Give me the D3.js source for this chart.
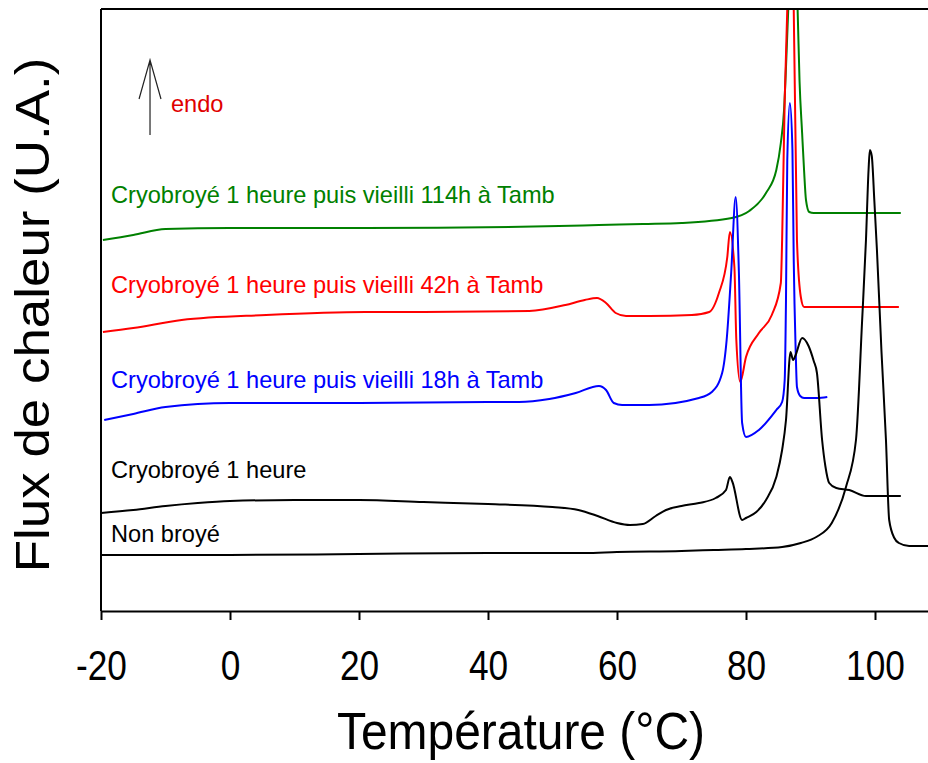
<!DOCTYPE html>
<html>
<head>
<meta charset="utf-8">
<script src="https://cdn.jsdelivr.net/npm/d3@7"></script>
<style>
  html, body { margin: 0; padding: 0; background: #fff; }
  svg { display: block; }
  text { font-family: "Liberation Sans", Arial, sans-serif; }
</style>
</head>
<body>
<svg id="chart" width="928" height="763"></svg>
<script>
// ---- Data (temperature °C, heat flux in arbitrary units U.A.) ----
const xTicks = [-20, 0, 20, 40, 60, 80, 100];

const nonBroye = [
  [-20,56],[0,56],[20,57],[40,58],[55,58],[60,59],[70,60],[75,61],[80,62],[85.6,64],[88.5,68],
  [90.9,74],[93.3,88],[95.5,124],[97.05,171],[98.0,290],[98.6,371],[99.0,441],[99.2,461],
  [99.5,455],[99.9,410],[100.3,361],[101.0,260],[101.7,171],[102.2,91],[103.0,73],[103.7,68],
  [105.3,65],[110,65]
];

const cryo1h = [
  [-20,98],[-15,101],[-10,105],[-5,108],[0,110],[10,111],[20,111],[30,109],[40,107],[50,104],
  [54,101],[57,95],[60,88],[62,86],[64,87],[66,95],[67.6,101],[70,105],[72.7,108],[75.3,113],
  [76.9,121],[77.5,134],[77.9,129],[79.4,91],[80,93],[81.6,99],[83.1,111],[84.7,134],[85.6,161],
  [86.2,191],[86.9,259],[87.3,251],[87.7,256],[88.7,273],[89.7,265],[90.5,250],[91.0,238],
  [91.8,171],[92.3,145],[92.9,128],[94,123],[96,121],[98.6,115],[104,115]
];

const vieilli18h = [
  [-19.5,191],[-15,197],[-10,204],[0,208],[20,208],[40,209],[44.8,209],[49.5,212],[53.6,218],
  [57.2,225],[58.3,221],[59.5,208],[60.8,206],[65,206],[72.7,213],[74.7,219],[76.3,238],
  [77.0,271],[77.7,338],[78.4,414],[78.9,338],[79.4,188],[80.0,174],[82,181],[84.7,201],
  [85.6,209],[86.0,231],[86.2,311],[86.4,451],[86.8,508],[87.2,461],[87.4,351],[87.7,261],
  [87.9,224],[88.4,215],[89,213],[91,213],[92.6,214]
];

const vieilli42h = [
  [-19.7,279],[-15,283],[-7.5,291],[5.6,296],[21,299],[30,299],[46.4,300],[52,306],[55,311],
  [56.9,313],[58.3,308],[59.8,298],[61.4,295],[65,295],[71.6,296],[74.3,299],[75.8,318],
  [77.1,354],[77.5,379],[78.2,344],[78.5,271],[79.1,229],[80.0,254],[82,278],[84,296],
  [85.4,328],[85.6,371],[86.0,511],[86.4,602],[86.9,660],[87.4,602],[87.9,371],[88.5,314],
  [89,304],[103.7,304]
];

const vieilli114h = [
  [-19.7,371],[-15,376],[-10,382],[0,383],[21,383],[51,385],[57.2,386],[64,387],[70,388],
  [77.8,393],[80.5,400],[83.1,418],[84.7,441],[85.4,468],[85.9,501],[86.3,560],[86.6,610],
  [87.3,680],[88.0,602],[88.3,530],[88.7,478],[89.0,441],[89.3,411],[89.8,399],[90.5,398],
  [104,398]
];

const seriesNames = [
  "Cryobroyé 1 heure puis vieilli 114h à Tamb",
  "Cryobroyé 1 heure puis vieilli 42h à Tamb",
  "Cryobroyé 1 heure puis vieilli 18h à Tamb",
  "Cryobroyé 1 heure",
  "Non broyé"
];
const seriesColors = ["#008000", "#ff0000", "#0000ff", "#000000", "#000000"];
const seriesData = [vieilli114h, vieilli42h, vieilli18h, cryo1h, nonBroye];
// label anchor (temperature, flux) for each series label
const labelX = [-18.45, -18.45, -18.45, -18.45, -18.45];
const labelY = [408, 318, 223, 133, 69];

// ---- Layout ----
const svg = d3.select("#chart");
const x = d3.scaleLinear().domain([-20, 110]).range([101, 939.5]);
const y = d3.scaleLinear().domain([0, 602]).range([611, 9]);

svg.append("defs").append("clipPath").attr("id", "plotclip")
  .append("rect")
  .attr("x", x(-20)).attr("y", y(602))
  .attr("width", x(110) - x(-20)).attr("height", y(0) - y(602));

// Series lines
const line = d3.line()
  .x(d => x(d[0]))
  .y(d => y(d[1]))
  .curve(d3.curveMonotoneX);

const g = svg.append("g").attr("clip-path", "url(#plotclip)");
seriesData.forEach((s, i) => {
  g.append("path")
    .attr("d", line(s))
    .attr("fill", "none")
    .attr("stroke", seriesColors[i])
    .attr("stroke-width", 2)
    .attr("stroke-linejoin", "round");
});

// Frame: top border and left axis line
svg.append("line")
  .attr("x1", x(-20)).attr("x2", x(110))
  .attr("y1", y(602)).attr("y2", y(602))
  .attr("stroke", "#000").attr("stroke-width", 2);
svg.append("line")
  .attr("x1", x(-20)).attr("x2", x(-20))
  .attr("y1", y(602)).attr("y2", y(0))
  .attr("stroke", "#000").attr("stroke-width", 2);

// X axis
const xAxis = d3.axisBottom(x).tickValues(xTicks).tickSize(9).tickSizeOuter(0).tickPadding(30)
  .tickFormat(d => String(d));
const ax = svg.append("g").attr("transform", `translate(0,${y(0)})`).call(xAxis);
ax.select(".domain").attr("stroke-width", 2);
ax.selectAll(".tick line").attr("stroke-width", 2);
ax.selectAll(".tick text")
  .attr("font-family", "Liberation Sans, Arial, sans-serif")
  .attr("font-size", 42)
  .attr("fill", "#000")
  .attr("transform", "scale(0.84,1)");

// Axis titles
svg.append("text")
  .attr("transform", `translate(521,749) scale(0.94,1)`)
  .attr("text-anchor", "middle")
  .attr("font-size", 51)
  .attr("fill", "#000")
  .text("Température (°C)");

svg.append("text")
  .attr("transform", `translate(49,315) rotate(-90) scale(1.08,1)`)
  .attr("text-anchor", "middle")
  .attr("font-size", 49)
  .attr("fill", "#000")
  .text("Flux de chaleur (U.A.)");

// Series labels
seriesNames.forEach((name, i) => {
  svg.append("text")
    .attr("x", x(labelX[i]))
    .attr("y", y(labelY[i]))
    .attr("font-size", 23.6)
    .attr("fill", seriesColors[i])
    .text(name);
});

// Endo arrow
const ax0 = x(-12.4), ayBot = y(476), ayTop = y(551), ayHead = y(512);
svg.append("path")
  .attr("d", `M${ax0},${ayBot}L${ax0},${ayTop}M${x(-14.1)},${ayHead}L${ax0},${ayTop}L${x(-10.7)},${ayHead}`)
  .attr("fill", "none")
  .attr("stroke", "#222")
  .attr("stroke-width", 1.2);
svg.append("text")
  .attr("x", x(-9.15)).attr("y", y(499))
  .attr("font-size", 23.6)
  .attr("fill", "#e00000")
  .text("endo");
</script>
</body>
</html>
